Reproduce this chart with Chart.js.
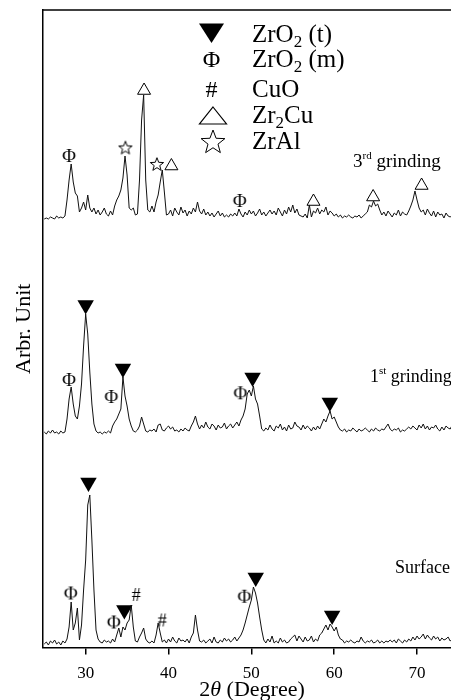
<!DOCTYPE html>
<html><head><meta charset="utf-8">
<script src="https://cdn.jsdelivr.net/npm/chart.js@4.4.1/dist/chart.umd.min.js"></script>
<style>html,body{margin:0;padding:0;background:#fff;overflow:hidden}#wrap{width:451px;height:700px;position:relative;overflow:hidden}canvas{display:block}</style>
</head><body><div id="wrap"><canvas id="c"></canvas></div>
<script>
// 2-theta grid of the scans (degrees)
const angleStart = 25, angleStep = 0.25;
// intensities (arbitrary units above each trace's own baseline), one value per 0.25 deg from 25 to 74.25
const grinding3 = [
1,2,1,3, 2,1,4,2, 3,2,4,20, 40,56,38,27, 24,8,12,18, 10,25,12,8, 12,6,10,5, 8,12,6,4,
9,5,14,20, 24,30,42,64, 45,12,10,12, 5,6,40,100, 125,40,10,8, 14,8,18,25, 38,50,28,5,
6,10,4,12, 8,5,13,7, 10,4,9,6, 12,8,18,9, 6,11,5,8, 4,7,3,6, 9,4,7,3, 5,3,6,4,
7,4,11,6, 3,8,5,10, 6,9,4,7, 11,5,8,4, 7,10,6,9, 5,12,8,4, 10,6,13,8, 15,7,11,5,
4,3,6,2, 15,3,9,7, 12,6,10,8, 13,5,9,7, 4,6,3,5, 2,4,3,5, 3,2,4,3, 5,2,4,6,
8,15,13,19, 14,16,10,5, 8,4,9,6, 3,7,5,10, 4,8,6,5, 9,14,20,29, 20,12,8,10, 5,11,7,4,
9,3,8,5, 6,2,7,4, 3,5];
const grinding1 = [
2,0,3,1, 4,1,2,0, 3,1,2,15, 35,47,30,18, 15,28,50,88, 120,100,62,30, 10,3,1,2, 0,2,1,3,
1,8,12,15, 20,25,57,38, 28,15,8,3, 2,4,8,17, 10,3,2,4, 3,5,2,9, 10,4,3,6,
8,5,7,3, 4,2,5,3, 6,4,3,8, 12,18,10,5, 9,6,12,7, 5,10,8,4, 9,6,7,11, 5,8,10,6,
9,12,8,14, 18,25,40,44, 38,48,35,30, 18,5,3,6, 4,9,5,3, 8,6,10,4, 7,3,9,5, 6,12,8,7,
4,9,5,8, 6,3,7,4, 8,5,10,15, 12,18,23,15, 17,12,7,4, 3,5,2,4, 3,6,4,2, 5,3,4,6,
4,2,5,3, 6,4,3,5, 4,7,10,5, 3,5,4,6, 2,4,3,5, 7,5,8,6, 4,9,6,10, 5,8,4,7,
6,9,5,3, 7,4,8,6, 5,9];
const surface = [
1,3,0,4, 2,5,1,3, 0,4,2,6, 18,43,15,22, 37,5,20,55, 85,140,150,105, 55,15,6,3, 2,5,3,4,
2,6,3,10, 17,8,18,15, 22,25,40,18, 4,3,8,12, 17,6,3,2, 4,2,10,22, 12,3,5,2,
6,3,8,4, 2,7,4,5, 3,6,2,8, 12,30,15,4, 3,5,2,4, 6,2,8,3, 2,5,3,7, 4,6,3,5,
8,4,7,10, 15,22,30,38, 45,58,52,42, 28,15,5,2, 6,3,9,2, 4,2,7,3, 5,2,3,6, 8,10,4,9,
6,3,8,4, 5,9,3,6, 4,10,12,16, 20,15,21,18, 14,18,10,6, 5,2,4,3, 5,3,2,4, 3,8,4,2,
4,3,5,2, 3,5,2,4, 2,4,3,5, 3,5,2,6, 4,2,5,3, 6,4,8,5, 9,6,8,11, 6,10,7,5,
9,6,8,4, 7,5,6,8, 4,6];
// vertical stacking of the three scans
const traceOffsets = {surface: 2.5, grinding1: 213.5, grinding3: 427.5};
const xTicks = [30, 40, 50, 60, 70];
// phase markers [2theta, height]
const zro2tMarks = [[30.0,342.6],[34.5,279],[50.15,270],[59.47,245],[30.34,165],[34.67,37.6],[50.53,70],[59.75,32]];
const zro2mMarks = [[28.0,492.5],[48.6,447.5],[28.0,268.5],[33.1,251.5],[48.68,255.2],[28.2,55],[33.4,26],[49.16,51.8]];
const cuoMarks = [[36.1,53.5],[39.25,28]];
const zr2cuMarks = [[37.05,557],[40.35,481.5],[57.5,446],[64.7,450.5],[70.55,462]];
const zralMarks = [[34.8,500],[38.6,483.5]];

const SERIF = '"Liberation Serif","DejaVu Serif",serif';

function glyphCanvas(text, size, w, h, dy) {
  const c = document.createElement('canvas'); c.width = w; c.height = h;
  const g = c.getContext('2d');
  g.font = size + 'px ' + SERIF; g.textAlign = 'center'; g.textBaseline = 'alphabetic';
  g.fillStyle = '#000';
  g.fillText(text, w / 2, h / 2 + dy);
  return c;
}
function starPath(g, cx, cy, R) {
  g.beginPath();
  for (let k = 0; k < 10; k++) {
    const a = -Math.PI / 2 + k * Math.PI / 5;
    const r = k % 2 ? R * 0.42 : R;
    const px = cx + r * Math.cos(a), py = cy + r * Math.sin(a);
    k ? g.lineTo(px, py) : g.moveTo(px, py);
  }
  g.closePath();
}
function starCanvas(R) {
  const s = Math.ceil(R * 2 + 4);
  const c = document.createElement('canvas'); c.width = s; c.height = s;
  const g = c.getContext('2d');
  starPath(g, s / 2, s / 2 + R * 0.1, R);
  g.fillStyle = '#fff'; g.fill();
  g.strokeStyle = '#000'; g.lineWidth = 1; g.stroke();
  return c;
}
const phiImg = glyphCanvas('\u03A6', 19, 20, 22, 6.5);
const hashImg = glyphCanvas('#', 18, 16, 22, 6.5);
const starImg = starCanvas(7);

const toXY = (arr, off) => arr.map((v, i) => ({x: angleStart + i * angleStep, y: v + off}));
const pts = arr => arr.map(p => ({x: p[0], y: p[1]}));

function traceDS(arr, off) {
  return {data: toXY(arr, off), borderColor: '#111', borderWidth: 1, pointRadius: 0, tension: 0, fill: false};
}
function markDS(arr, style, extra) {
  return Object.assign({data: pts(arr), showLine: false, pointStyle: style, pointHoverRadius: 0}, extra);
}

function drawSub(g, parts, x, y) {
  for (const [t, size, dy] of parts) {
    g.font = size + 'px ' + SERIF;
    g.fillText(t, x, y + dy);
    x += g.measureText(t).width;
  }
  return x;
}

const decor = {
  id: 'decor',
  afterDraw(chart) {
    const g = chart.ctx, a = chart.chartArea;
    g.save();
    g.strokeStyle = '#000'; g.lineWidth = 1.5;
    g.beginPath(); g.moveTo(a.left - 0.75, a.top); g.lineTo(a.right, a.top); g.stroke();
    g.fillStyle = '#000'; g.textAlign = 'left'; g.textBaseline = 'alphabetic';
    // legend
    const sx = 211.5;
    g.beginPath(); g.moveTo(sx - 12.5, 23.5); g.lineTo(sx + 12.5, 23.5); g.lineTo(sx, 43); g.closePath(); g.fill();
    g.font = '24px ' + SERIF; g.textAlign = 'center';
    g.fillText('\u03A6', sx, 66.5);
    g.fillText('#', sx, 96.5);
    g.beginPath(); g.moveTo(sx + 1.5, 107); g.lineTo(sx + 15, 124); g.lineTo(sx - 12, 124); g.closePath();
    g.lineWidth = 1.2; g.stroke();
    starPath(g, sx + 1.5, 142.5, 12.5); g.lineWidth = 1; g.stroke();
    g.textAlign = 'left';
    const tx = 252;
    drawSub(g, [['ZrO', 25, 0], ['2', 17, 5], [' (t)', 25, 0]], tx, 42);
    drawSub(g, [['ZrO', 25, 0], ['2', 17, 5], [' (m)', 25, 0]], tx, 67);
    drawSub(g, [['CuO', 25, 0]], tx, 96.5);
    drawSub(g, [['Zr', 25, 0], ['2', 17, 5], ['Cu', 25, 0]], tx, 123);
    drawSub(g, [['ZrAl', 25, 0]], tx, 149);
    // trace labels
    drawSub(g, [['3', 19, 0], ['rd', 11, -8], [' grinding', 19, 0]], 353, 167);
    drawSub(g, [['1', 18, 0], ['st', 11, -8], [' grinding', 18, 0]], 370, 382);
    drawSub(g, [['Surface', 18, 0]], 395, 573);
    // x title with italic theta
    const parts = [['2', 22, ''], ['\u03B8', 22, 'italic '], [' (Degree)', 22, '']];
    let w = 0;
    for (const [t, s, st] of parts) { g.font = st + s + 'px ' + SERIF; w += g.measureText(t).width; }
    let x = 252 - w / 2;
    for (const [t, s, st] of parts) { g.font = st + s + 'px ' + SERIF; g.fillText(t, x, 696); x += g.measureText(t).width; }
    g.restore();
  }
};

new Chart(document.getElementById('c'), {
  type: 'line',
  data: {datasets: [
    traceDS(grinding3, traceOffsets.grinding3),
    traceDS(grinding1, traceOffsets.grinding1),
    traceDS(surface, traceOffsets.surface),
    markDS(zro2tMarks, 'triangle', {pointRadius: 9.5, pointRotation: 180, pointBackgroundColor: '#000', pointBorderColor: '#000', pointBorderWidth: 0}),
    markDS(zr2cuMarks, 'triangle', {pointRadius: 7.5, pointBackgroundColor: '#fff', pointBorderColor: '#000', pointBorderWidth: 1}),
    markDS(zro2mMarks, phiImg, {pointRadius: 10}),
    markDS(cuoMarks, hashImg, {pointRadius: 10}),
    markDS(zralMarks, starImg, {pointRadius: 8})
  ]},
  options: {
    responsive: true, maintainAspectRatio: false, animation: false,
    layout: {autoPadding: false, padding: {top: 10, right: 0, left: 0, bottom: 0}},
    plugins: {legend: {display: false}, tooltip: {enabled: false}},
    events: [],
    scales: {
      x: {
        type: 'linear', min: 24.85, max: 74.1,
        afterBuildTicks: s => { s.ticks = xTicks.map(v => ({value: v})); },
        afterFit: s => { s.height = 52.5; s.paddingLeft = 0; s.paddingRight = 0; },
        ticks: {color: '#000', font: {family: SERIF, size: 17}, padding: 9, maxRotation: 0},
        grid: {display: true, drawOnChartArea: false, drawTicks: true, tickLength: 7, color: '#000', lineWidth: 1.5},
        border: {display: true, color: '#000', width: 1.5},
        title: {display: false}
      },
      y: {
        type: 'linear', min: 0, max: 637.5,
        afterFit: s => { s.width = 43; s.paddingTop = 0; s.paddingBottom = 0; },
        ticks: {display: false},
        grid: {display: false},
        border: {display: true, color: '#000', width: 1.5},
        title: {display: true, text: 'Arbr. Unit', color: '#000', font: {family: SERIF, size: 22}, padding: {top: 11, bottom: 0}}
      }
    }
  },
  plugins: [decor]
});
</script>
</body></html>
